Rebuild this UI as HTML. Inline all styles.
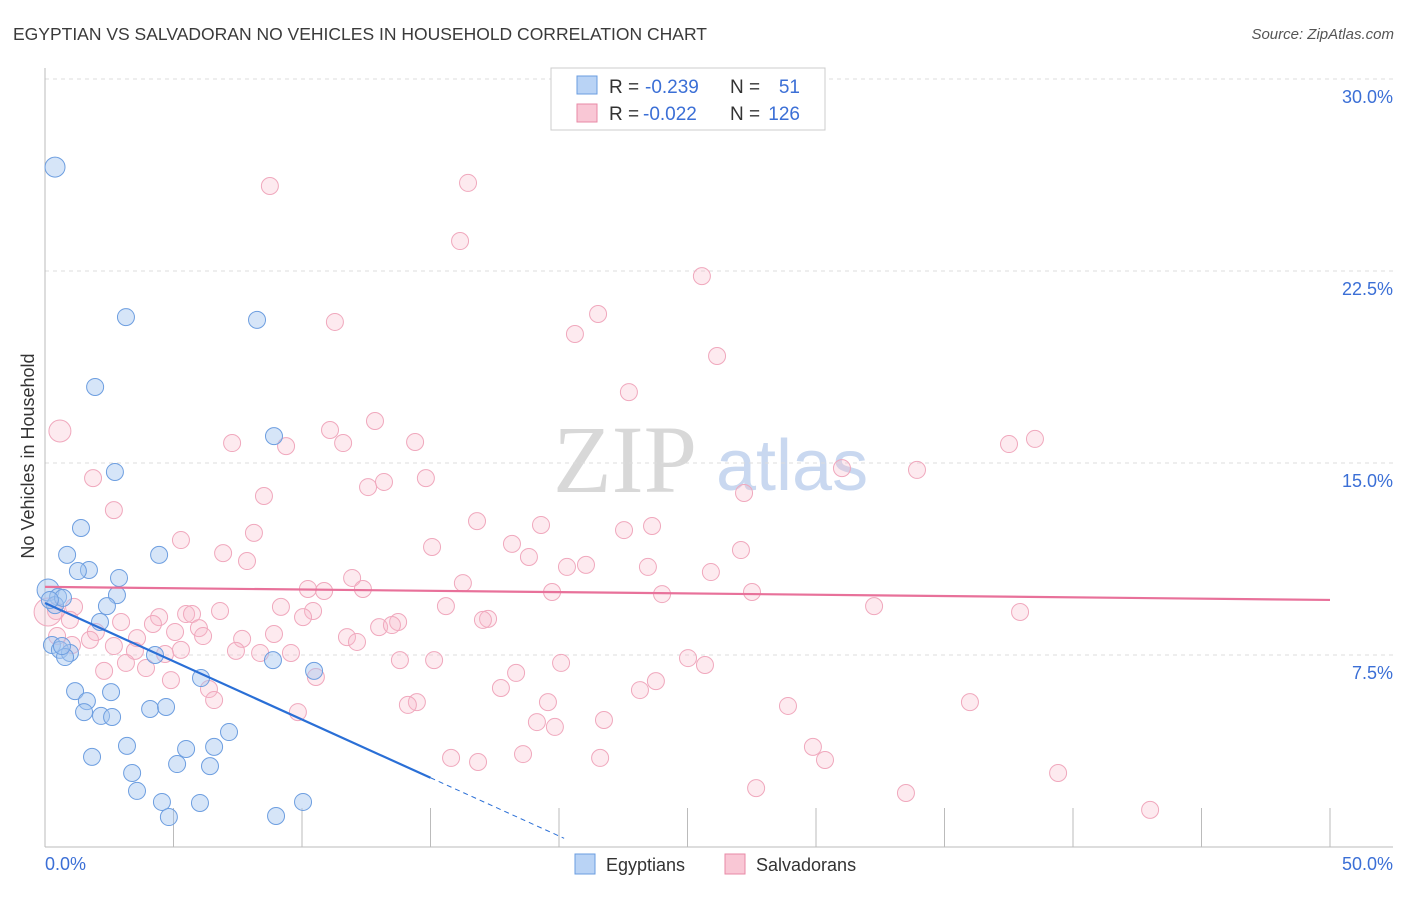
<!DOCTYPE html>
<html><head><meta charset="utf-8"><style>
body{margin:0;background:#fff;font-family:"Liberation Sans",sans-serif}
</style></head><body>
<svg width="1406" height="892" xmlns="http://www.w3.org/2000/svg">
<text x="13" y="40" font-size="17.5" fill="#3a3a3a">EGYPTIAN VS SALVADORAN NO VEHICLES IN HOUSEHOLD CORRELATION CHART</text>
<text x="1394" y="39" font-size="15" font-style="italic" fill="#555" text-anchor="end">Source: ZipAtlas.com</text>
<g>
<text x="553" y="492" font-family="Liberation Serif,serif" font-size="96" fill="#d8d8d8">ZIP</text>
<text x="716" y="490" font-size="72" fill="#c9d8f0">atlas</text>
</g>
<g id="grid"></g>
<g id="axes"></g>
<g id="pink"></g>
<g id="blue"></g>
<g id="lines"></g>
<text transform="translate(34,456) rotate(-90)" font-size="18" fill="#333" text-anchor="middle">No Vehicles in Household</text>
<g>
<rect x="551" y="68" width="274" height="62" fill="#fff" stroke="#ccc"/>
<rect x="577" y="76" width="20" height="18" fill="#b9d3f5" stroke="#6a9ce0"/>
<rect x="577" y="104" width="20" height="18" fill="#f9c7d5" stroke="#e88aa6"/>
<text x="609" y="93" font-size="19" fill="#333">R = </text>
<text x="645" y="93" font-size="19" fill="#3b6fd6">-0.239</text>
<text x="730" y="93" font-size="19" fill="#333">N =</text>
<text x="800" y="93" font-size="19" fill="#3b6fd6" text-anchor="end">51</text>
<text x="609" y="120" font-size="19" fill="#333">R = </text>
<text x="643" y="120" font-size="19" fill="#3b6fd6">-0.022</text>
<text x="730" y="120" font-size="19" fill="#333">N =</text>
<text x="800" y="120" font-size="19" fill="#3b6fd6" text-anchor="end">126</text>
</g>
<g>
<rect x="575" y="854" width="20" height="20" fill="#b9d3f5" stroke="#6a9ce0"/>
<text x="606" y="871" font-size="18" fill="#333">Egyptians</text>
<rect x="725" y="854" width="20" height="20" fill="#f9c7d5" stroke="#e88aa6"/>
<text x="756" y="871" font-size="18" fill="#333">Salvadorans</text>
</g>
</svg>
<script>
const yTicks=[7.5,15,22.5,30];
const yTickLabels=["7.5%","15.0%","22.5%","30.0%"];
const xTicks=[0,5,10,15,20,25,30,35,40,45,50];
const blueX=[0.39,3.15,8.25,1.95,8.91,2.72,1.40,0.86,4.44,1.71,1.28,2.88,0.12,0.51,2.80,0.39,2.41,2.14,0.27,0.58,0.97,0.78,6.07,10.47,8.87,4.28,1.17,1.63,2.57,1.52,2.18,2.61,4.09,4.71,7.16,3.19,5.49,6.58,1.83,3.39,5.14,6.42,3.58,4.55,6.03,4.82,8.99,10.04,0.70,0.19,0.66];
const blueY=[26.56,20.70,20.59,17.97,16.05,14.65,12.46,11.41,11.41,10.82,10.78,10.51,10.04,9.77,9.84,9.45,9.41,8.79,7.89,7.70,7.58,7.42,6.60,6.88,7.30,7.50,6.09,5.70,6.05,5.27,5.12,5.08,5.39,5.47,4.49,3.95,3.83,3.91,3.52,2.89,3.24,3.16,2.19,1.76,1.72,1.17,1.21,1.76,9.73,9.65,7.85];
const pinkX=[8.75,16.46,16.15,25.56,11.28,21.52,20.62,26.15,22.72,12.84,11.09,7.28,9.38,11.60,14.40,38.52,37.51,0.58,31.01,33.93,1.87,14.82,13.19,12.57,8.52,27.20,2.68,16.81,19.30,22.53,23.62,8.13,5.29,15.06,18.17,27.08,6.93,7.86,18.83,23.46,21.05,20.31,25.91,16.26,11.95,10.23,10.86,12.37,1.13,0.43,19.73,24.01,27.51,9.18,6.81,15.60,10.43,5.49,4.44,5.72,37.94,32.26,10.04,1.98,2.96,4.20,5.06,5.99,6.15,17.24,17.04,13.74,13.00,13.50,8.91,11.75,3.58,2.68,7.67,12.14,0.47,3.50,4.67,5.29,7.43,8.37,9.57,13.81,15.14,25.02,25.68,3.15,3.93,18.33,2.30,4.90,20.08,10.54,6.38,23.77,23.15,17.74,6.58,14.47,14.12,9.84,19.57,28.91,35.99,19.14,21.75,19.84,29.88,30.35,15.80,16.85,18.60,21.60,39.42,27.67,33.50,43.00,1.05,1.75,0.97,0.12];
const pinkY=[25.82,25.94,23.67,22.30,20.51,20.82,20.04,19.18,17.77,16.64,16.29,15.78,15.66,15.78,15.82,15.94,15.74,16.25,14.80,14.73,14.41,14.41,14.26,14.06,13.71,13.83,13.16,12.73,12.58,12.38,12.54,12.27,11.99,11.72,11.84,11.60,11.48,11.17,11.33,10.94,11.02,10.94,10.74,10.31,10.51,10.08,10.00,10.08,9.38,9.22,9.96,9.88,9.96,9.38,9.22,9.41,9.22,9.10,8.98,9.10,9.18,9.41,8.98,8.40,8.79,8.71,8.40,8.55,8.24,8.91,8.87,8.79,8.59,8.67,8.32,8.20,8.16,7.85,8.13,8.01,8.24,7.66,7.54,7.70,7.66,7.58,7.58,7.30,7.30,7.38,7.11,7.19,6.99,6.80,6.88,6.52,7.19,6.64,6.17,6.48,6.13,6.21,5.74,5.66,5.55,5.27,5.66,5.51,5.66,4.88,4.96,4.69,3.91,3.40,3.48,3.32,3.63,3.48,2.89,2.30,2.11,1.45,7.89,8.09,8.87,9.18];
const blueTrend={intercept:9.53,slope:-0.455,solidEnd:15,dashEnd:20.2};
const pinkTrend={intercept:10.16,slope:-0.0102,end:50};
const NS="http://www.w3.org/2000/svg";
const X0=45,X1=1330,Y0=847,Y30=79;
function sx(v){return X0+(X1-X0)*v/50;}
function sy(v){return Y0-(Y0-Y30)*v/30;}
function mk(tag,attrs,parent){const e=document.createElementNS(NS,tag);for(const k in attrs)e.setAttribute(k,attrs[k]);document.getElementById(parent).appendChild(e);return e;}
yTicks.forEach((t,i)=>{
 const l=mk('line',{x1:X0,x2:1393,y1:sy(t),y2:sy(t),stroke:'#ddd','stroke-dasharray':'4,4'},'grid');
 
 
 const tx=mk('text',{x:1393,y:sy(t)+24,'font-size':18,fill:'#3b6fd6','text-anchor':'end'},'grid');
 tx.textContent=yTickLabels[i];
 
 
});
let ax=mk('line',{x1:X0,x2:X0,y1:68,y2:Y0,stroke:'#bbb'},'axes');


let bx=mk('line',{x1:X0,x2:1393,y1:Y0,y2:Y0,stroke:'#bbb'},'axes');


xTicks.forEach(t=>{
 const l=mk('line',{x1:sx(t),x2:sx(t),y1:808,y2:Y0,stroke:'#bbb'},'axes');
 
 
});
let xl=mk('text',{x:45,y:870,'font-size':18,fill:'#3b6fd6'},'axes');xl.textContent='0.0%';


let xr=mk('text',{x:1393,y:870,'font-size':18,fill:'#3b6fd6','text-anchor':'end'},'axes');xr.textContent='50.0%';


pinkX.forEach((v,i)=>{
 const r=(i===pinkX.length-1)?14:(i===17?11:8.5);
 const c=mk('circle',{cx:sx(v),cy:sy(pinkY[i]),r:r,fill:'rgba(248,185,203,0.3)',stroke:'#f0a8bd','stroke-width':1},'pink');
 
 
});
blueX.forEach((v,i)=>{
 const r=(i===0)?10:(i===12?11:8.5);
 const c=mk('circle',{cx:sx(v),cy:sy(blueY[i]),r:r,fill:'rgba(165,198,240,0.45)',stroke:'#6d9ee0','stroke-width':1},'blue');
 
 
});
const bf=x=>blueTrend.intercept+blueTrend.slope*x;
let bl=mk('line',{x1:sx(0),y1:sy(bf(0)),x2:sx(blueTrend.solidEnd),y2:sy(bf(blueTrend.solidEnd)),stroke:'#2a6fd6','stroke-width':2.2},'lines');


let bd=mk('line',{x1:sx(blueTrend.solidEnd),y1:sy(bf(blueTrend.solidEnd)),x2:sx(blueTrend.dashEnd),y2:sy(bf(blueTrend.dashEnd)),stroke:'#2a6fd6','stroke-width':1,'stroke-dasharray':'5,4'},'lines');


const pf=x=>pinkTrend.intercept+pinkTrend.slope*x;
let pl=mk('line',{x1:sx(0),y1:sy(pf(0)),x2:sx(pinkTrend.end),y2:sy(pf(pinkTrend.end)),stroke:'#e8719a','stroke-width':2.2},'lines');


</script>
</body></html>
